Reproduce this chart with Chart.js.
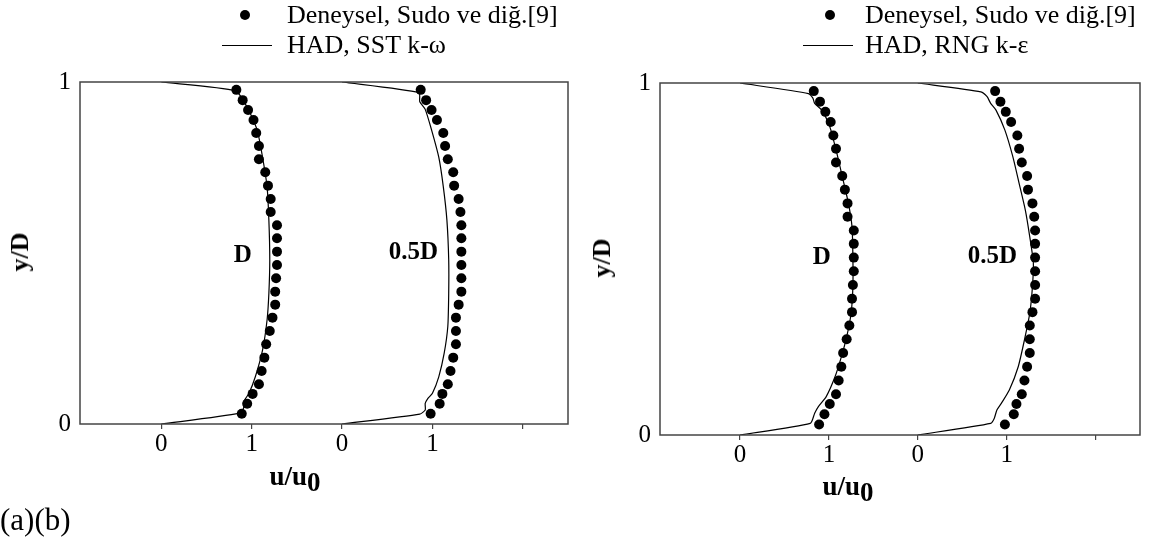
<!DOCTYPE html>
<html lang="tr">
<head>
<meta charset="UTF-8">
<title>Hız profilleri</title>
<script src="https://cdn.jsdelivr.net/npm/chart.js"></script>
<style>
    body {
        margin: 0;
        width: 1158px;
        height: 546px;
        background: #fff;
        position: relative;
        overflow: hidden;
        font-family: "Liberation Serif", "Times New Roman", serif;
        color: #000;
    }
    .panel { position: absolute; top: 0; height: 546px; }
    .txt { position: absolute; white-space: nowrap; line-height: 1; }
    .legend { font-size: 26px; }
    .dot {
        position: absolute; width: 10px; height: 10px;
        border-radius: 50%; background: #000;
    }
    .seg { position: absolute; height: 0; border-top: 1.2px solid #000; }
    .ytitle { font-size: 26px; font-weight: bold; transform: translate(-50%, -50%) rotate(-90deg); }
    .xtitle { font-size: 27px; font-weight: bold; transform: translate(-50%, -50%); }
    .xtitle span { position: relative; top: 6px; }
    .tag { font-size: 31px; }
</style>
</head>
<body>

<div class="panel" style="left:0; width:580px;"><canvas id="chartA"></canvas></div>
<div class="panel" style="left:580px; width:578px;"><canvas id="chartB"></canvas></div>

<!-- legends -->
<div class="dot" style="left:240px; top:10px;"></div>
<div class="txt legend" style="left:287px; top:2px;">Deneysel, Sudo ve diğ.[9]</div>
<div class="seg" style="left:222px; top:45px; width:50px;"></div>
<div class="txt legend" style="left:287px; top:32px;">HAD, SST k-ω</div>

<div class="dot" style="left:825px; top:10px;"></div>
<div class="txt legend" style="left:865px; top:2px;">Deneysel, Sudo ve diğ.[9]</div>
<div class="seg" style="left:803px; top:45px; width:50px;"></div>
<div class="txt legend" style="left:865px; top:32px;">HAD, RNG k-ε</div>

<!-- axis titles -->
<div class="txt ytitle" style="left:20px; top:252px;">y/D</div>
<div class="txt xtitle" style="left:295px; top:476px;">u/u<span>0</span></div>
<div class="txt ytitle" style="left:602px; top:258px;">y/D</div>
<div class="txt xtitle" style="left:848px; top:486px;">u/u<span>0</span></div>

<div class="txt tag" style="left:0; top:504px;">(a)(b)</div>

<script>
// Deneysel ölçüm noktaları (Sudo ve diğ.), iki panelde de aynı
const expY = [0.977, 0.947, 0.918, 0.889, 0.851, 0.813, 0.774, 0.736, 0.697, 0.658, 0.620, 0.581, 0.543, 0.504,
              0.465, 0.426, 0.387, 0.349, 0.311, 0.272, 0.233, 0.194, 0.155, 0.116, 0.088, 0.059, 0.030];
const expD = [0.83, 0.90, 0.96, 1.02, 1.05, 1.08, 1.08, 1.15, 1.18, 1.21, 1.21, 1.28, 1.28, 1.28,
              1.28, 1.27, 1.26, 1.26, 1.23, 1.20, 1.16, 1.14, 1.11, 1.08, 1.01, 0.95, 0.89];
const exp05D = [0.87, 0.93, 0.99, 1.05, 1.12, 1.14, 1.17, 1.23, 1.24, 1.29, 1.31, 1.32, 1.32, 1.32,
                1.32, 1.32, 1.32, 1.29, 1.26, 1.26, 1.26, 1.23, 1.20, 1.17, 1.11, 1.08, 0.98];

// HAD, SST k-omega
const sstD_u = [0, 0.82, 0.95, 1.06, 1.12, 1.17, 1.19, 1.20, 1.19, 1.17, 1.12, 1.04, 0.97, 0.91, 0.91, 0.86, 0];
const sstD_y = [1.0, 0.974, 0.926, 0.86, 0.78, 0.694, 0.596, 0.48, 0.382, 0.304, 0.216, 0.138, 0.09, 0.065, 0.046, 0.031, 0];
const sst05D_u = [0, 0.85, 0.86, 0.92, 0.99, 1.07, 1.12, 1.16, 1.18, 1.18, 1.17, 1.13, 1.07, 1.00, 0.95, 0.92, 0.92, 0.86, 0];
const sst05D_y = [1.0, 0.969, 0.942, 0.92, 0.86, 0.78, 0.694, 0.596, 0.48, 0.382, 0.285, 0.207, 0.138, 0.09, 0.075, 0.06, 0.041, 0.029, 0];

// HAD, RNG k-epsilon
const rngD_u = [0, 0.77, 0.82, 0.84, 0.92, 1.01, 1.09, 1.16, 1.22, 1.26, 1.27, 1.27, 1.25, 1.20, 1.14, 1.07, 0.97, 0.88, 0.84, 0.79, 0];
const rngD_y = [1.0, 0.97, 0.957, 0.942, 0.923, 0.876, 0.80, 0.724, 0.658, 0.592, 0.507, 0.421, 0.346, 0.279, 0.222, 0.166, 0.109, 0.080, 0.062, 0.033, 0];
const rng05D_u = [0, 0.71, 0.78, 0.82, 0.88, 0.98, 1.07, 1.14, 1.21, 1.26, 1.30, 1.29, 1.26, 1.20, 1.13, 1.03, 0.94, 0.89, 0.86, 0.82, 0];
const rng05D_y = [1.0, 0.975, 0.961, 0.942, 0.923, 0.866, 0.79, 0.715, 0.639, 0.563, 0.49, 0.421, 0.346, 0.27, 0.194, 0.128, 0.09, 0.071, 0.047, 0.033, 0];

// profiller yatayda kaydırılarak çiziliyor: D -> 0, 0.5D -> 2
const profileNames = ['D', '0.5D'];
const profileShift = [0, 2];
const xTickLabels = ['0', '1', '0', '1', ''];
const yTickLabels = ['0', '1'];

function pts(u, y, shift) {
    return u.map((v, i) => ({ x: v + shift, y: y[i] }));
}

function expSet(u, shift) {
    return {
        data: pts(u, expY, shift),
        showLine: false,
        pointRadius: 5,
        pointBackgroundColor: '#000',
        pointBorderWidth: 0
    };
}

function cfdSet(u, y, shift) {
    return {
        data: pts(u, y, shift),
        showLine: true,
        borderColor: '#000',
        borderWidth: 1.2,
        pointRadius: 0,
        tension: 0.2
    };
}

// çerçeve ve profil etiketleri
const framePlugin = {
    id: 'frame',
    afterDatasetsDraw(chart, args, opts) {
        const { ctx, chartArea: a, scales } = chart;
        ctx.save();
        ctx.strokeStyle = '#444';
        ctx.lineWidth = 1.5;
        ctx.strokeRect(a.left, a.top, a.right - a.left, a.bottom - a.top);
        ctx.fillStyle = '#000';
        ctx.font = 'bold 25px "Liberation Serif"';
        ctx.textAlign = 'center';
        ctx.textBaseline = 'middle';
        opts.labels.forEach((lab) => {
            ctx.fillText(lab.text, scales.x.getPixelForValue(lab.x), scales.y.getPixelForValue(lab.y));
        });
        ctx.restore();
    }
};

function makeChart(id, sets, box, labels) {
    new Chart(document.getElementById(id), {
        type: 'scatter',
        data: { datasets: sets },
        options: {
            responsive: true,
            maintainAspectRatio: false,
            animation: false,
            layout: { padding: { top: box.top, right: box.right, bottom: 0, left: 0 } },
            plugins: {
                legend: { display: false },
                tooltip: { enabled: false },
                frame: { labels: labels }
            },
            scales: {
                x: {
                    min: -0.9,
                    max: 4.5,
                    afterFit(s) { s.height = box.xh; },
                    afterBuildTicks(s) { s.ticks = xTickLabels.map((t, i) => ({ value: i })); },
                    ticks: {
                        callback: (v) => xTickLabels[v],
                        color: '#000',
                        font: { family: 'Liberation Serif', size: 25 },
                        padding: 0,
                        maxRotation: 0
                    },
                    grid: { display: true, drawOnChartArea: false, drawTicks: true, tickLength: 5, color: '#444', lineWidth: 1.2 },
                    border: { display: false }
                },
                y: {
                    min: 0,
                    max: 1,
                    afterFit(s) { s.width = 80; },
                    afterBuildTicks(s) { s.ticks = yTickLabels.map((t, i) => ({ value: i })); },
                    ticks: {
                        callback: (v) => yTickLabels[v],
                        color: '#000',
                        font: { family: 'Liberation Serif', size: 25 },
                        padding: 9
                    },
                    grid: { display: false, drawTicks: false },
                    border: { display: false }
                }
            }
        },
        plugins: [framePlugin]
    });
}

makeChart('chartA', [
    expSet(expD, profileShift[0]),
    expSet(exp05D, profileShift[1]),
    cfdSet(sstD_u, sstD_y, profileShift[0]),
    cfdSet(sst05D_u, sst05D_y, profileShift[1])
], { top: 82, right: 12, xh: 122 }, [
    { text: profileNames[0], x: 0.9, y: 0.494 },
    { text: profileNames[1], x: 2.79, y: 0.5 }
]);

makeChart('chartB', [
    expSet(expD, profileShift[0]),
    expSet(exp05D, profileShift[1]),
    cfdSet(rngD_u, rngD_y, profileShift[0]),
    cfdSet(rng05D_u, rng05D_y, profileShift[1])
], { top: 83, right: 18, xh: 111 }, [
    { text: profileNames[0], x: 0.92, y: 0.503 },
    { text: profileNames[1], x: 2.84, y: 0.506 }
]);
</script>
</body>
</html>
